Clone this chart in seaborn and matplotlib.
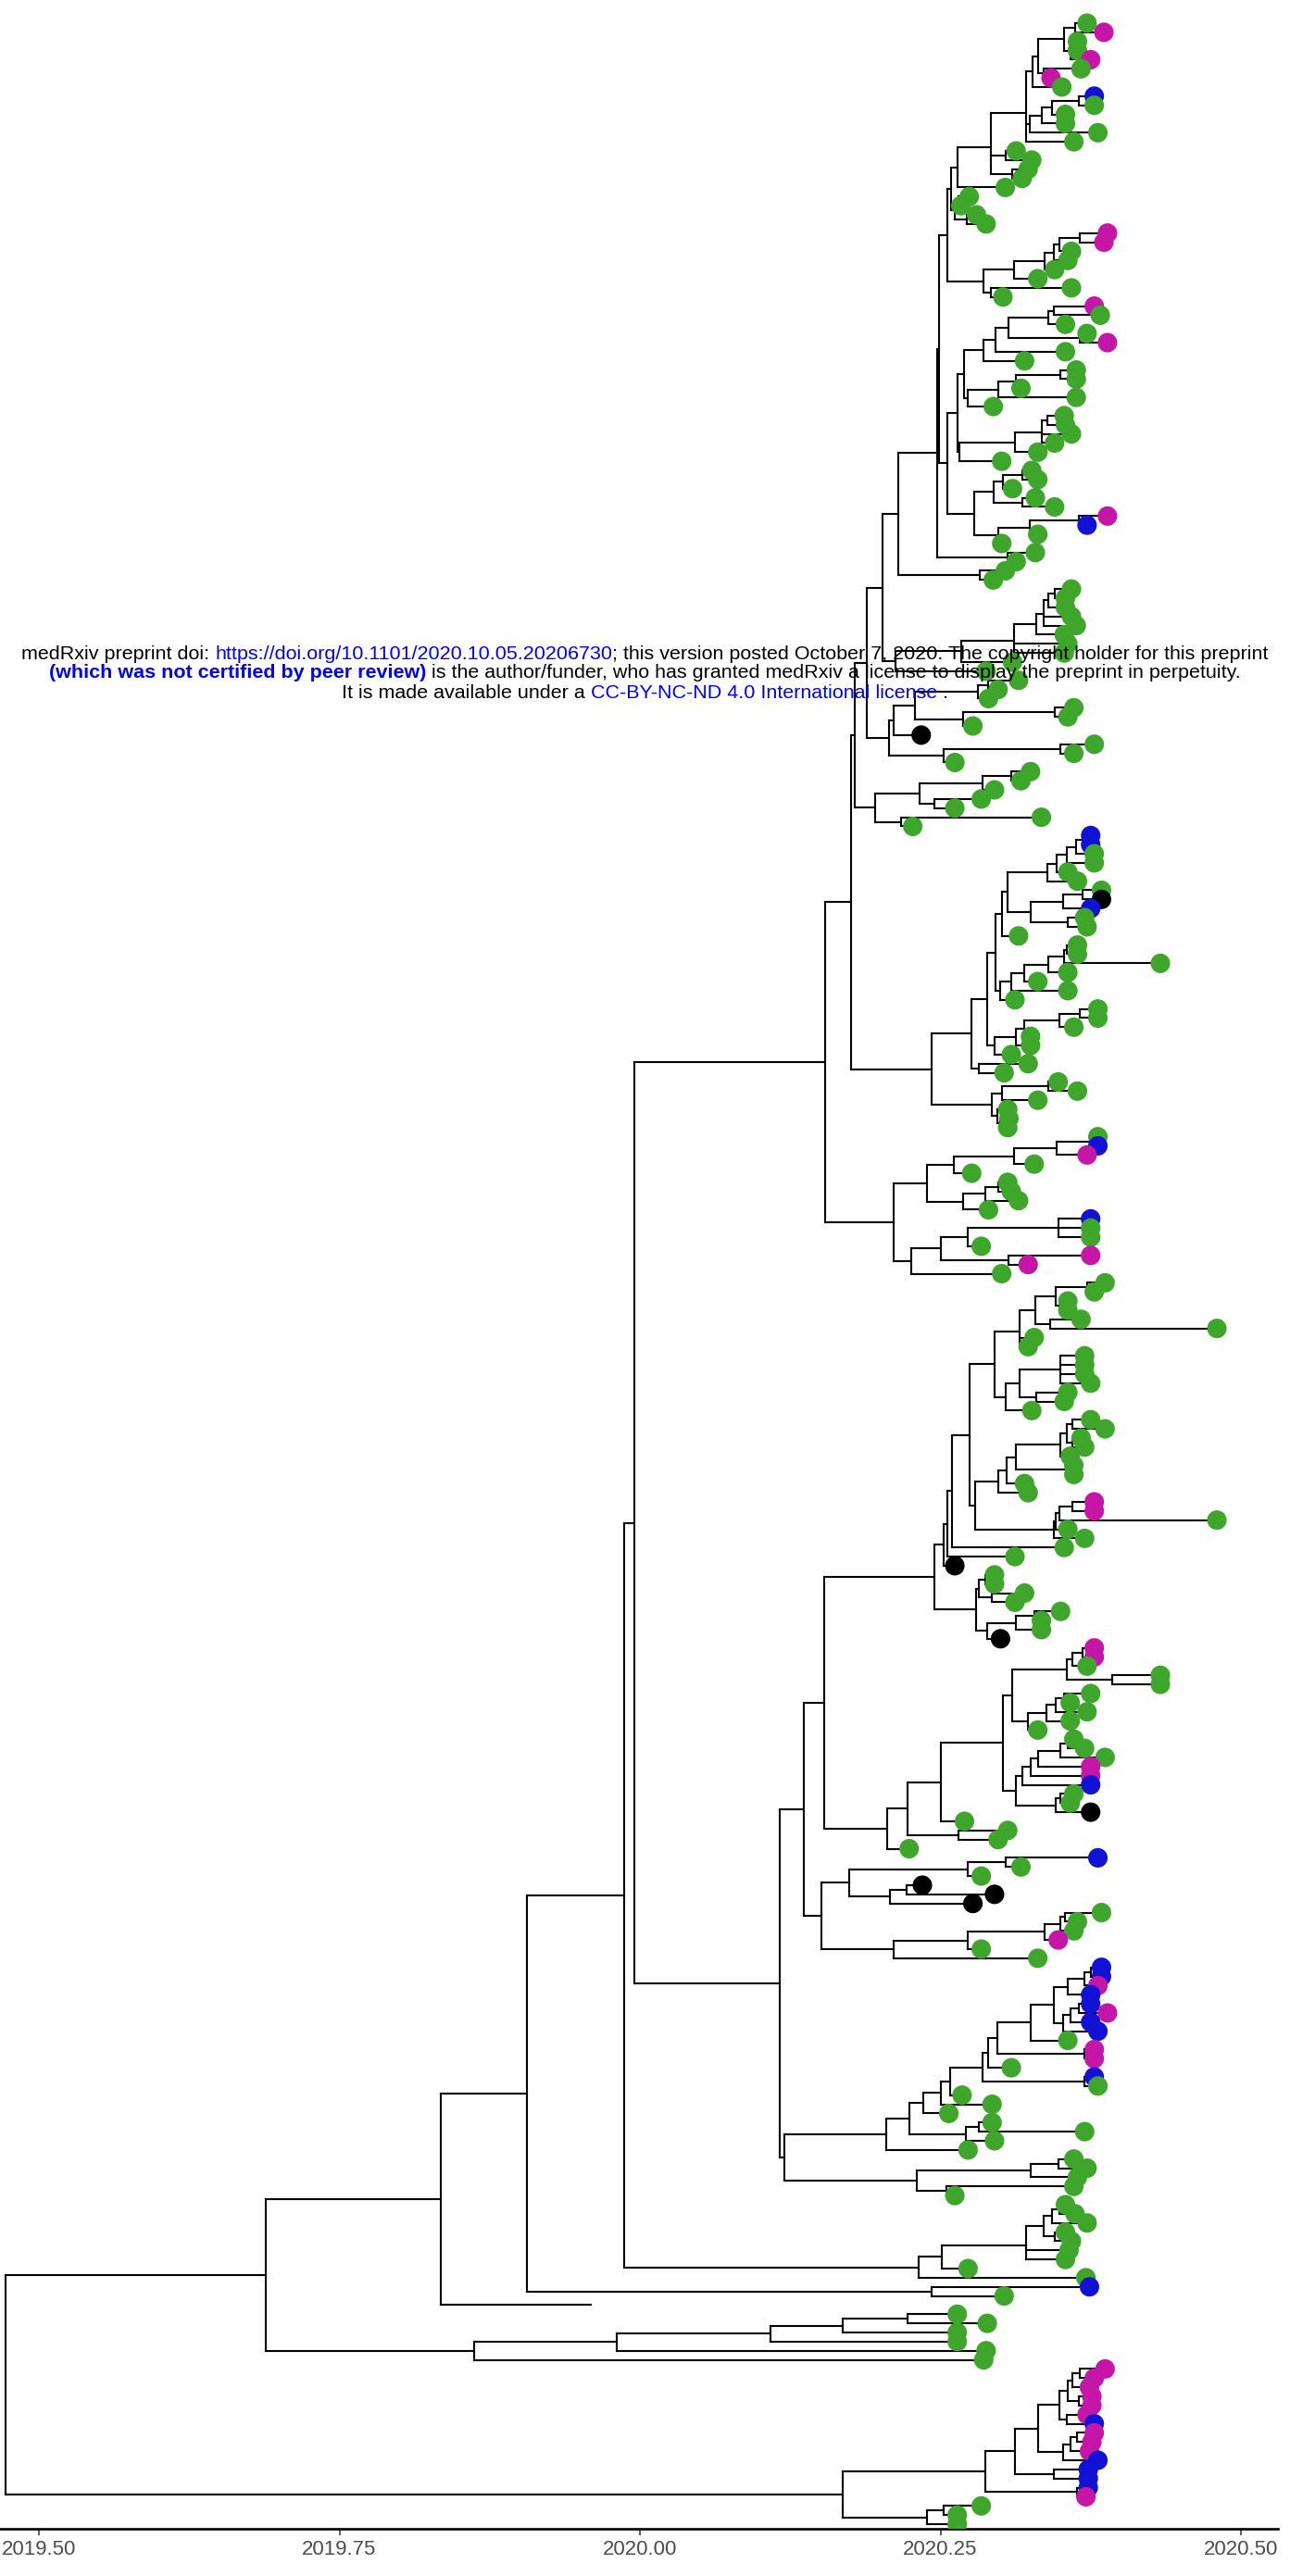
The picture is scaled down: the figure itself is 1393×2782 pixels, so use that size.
import matplotlib
matplotlib.use("Agg")
import matplotlib.pyplot as plt
from matplotlib.collections import LineCollection
import pandas as pd
import seaborn as sns

# ---- tip dates (decimal year), listed top to bottom ----
dates_a = [2020.372, 2020.386, 2020.364, 2020.364, 2020.375, 2020.367, 2020.342, 2020.351, 2020.378, 2020.378,
           2020.354, 2020.354, 2020.381, 2020.361, 2020.313, 2020.326, 2020.323, 2020.318, 2020.304, 2020.274,
           2020.267, 2020.280, 2020.288, 2020.389, 2020.386, 2020.359, 2020.356, 2020.345, 2020.331, 2020.359,
           2020.302, 2020.378, 2020.383, 2020.354, 2020.372, 2020.389, 2020.354, 2020.320, 2020.363, 2020.363,
           2020.317, 2020.363, 2020.294, 2020.353, 2020.354, 2020.359, 2020.345, 2020.331, 2020.301, 2020.326,
           2020.331, 2020.310, 2020.329, 2020.345, 2020.389, 2020.372, 2020.331, 2020.301, 2020.329, 2020.313,
           2020.304, 2020.294]
dates_b = [2020.359, 2020.354, 2020.354, 2020.359, 2020.363, 2020.353, 2020.356, 2020.353, 2020.310, 2020.288,
           2020.315, 2020.298, 2020.290, 2020.361, 2020.356, 2020.277, 2020.234, 2020.378, 2020.361, 2020.262,
           2020.325, 2020.317, 2020.295, 2020.284, 2020.262, 2020.334, 2020.227, 2020.375, 2020.375, 2020.378,
           2020.378, 2020.356, 2020.364, 2020.384, 2020.384, 2020.375, 2020.370, 2020.372, 2020.315, 2020.364,
           2020.364, 2020.433, 2020.356, 2020.331, 2020.356, 2020.312, 2020.381, 2020.381, 2020.361, 2020.325,
           2020.325, 2020.309, 2020.323, 2020.303, 2020.348, 2020.364, 2020.331, 2020.306, 2020.307, 2020.306,
           2020.381, 2020.381, 2020.372, 2020.328, 2020.276, 2020.306, 2020.309, 2020.315, 2020.290, 2020.375,
           2020.375, 2020.375, 2020.284, 2020.375, 2020.323, 2020.301]
dates_c = [2020.387, 2020.378, 2020.356, 2020.356, 2020.367, 2020.480, 2020.328, 2020.323, 2020.370, 2020.370,
           2020.370, 2020.375, 2020.356, 2020.353, 2020.326, 2020.375, 2020.387, 2020.367, 2020.370, 2020.358,
           2020.361, 2020.361, 2020.320, 2020.323, 2020.378, 2020.378, 2020.480, 2020.356, 2020.370, 2020.353,
           2020.312, 2020.262, 2020.295, 2020.295, 2020.320, 2020.312, 2020.350, 2020.334, 2020.334, 2020.300,
           2020.378, 2020.378, 2020.372, 2020.433, 2020.433, 2020.375, 2020.358, 2020.372, 2020.358, 2020.331,
           2020.361, 2020.370, 2020.387, 2020.375, 2020.375, 2020.375, 2020.361, 2020.358, 2020.375, 2020.270,
           2020.306, 2020.298, 2020.224]
dates_d = [2020.381, 2020.317, 2020.284, 2020.235, 2020.295, 2020.277, 2020.384, 2020.364, 2020.361, 2020.348,
           2020.284, 2020.331, 2020.384, 2020.384, 2020.381, 2020.375, 2020.375, 2020.389, 2020.375, 2020.381,
           2020.356, 2020.378, 2020.378, 2020.309, 2020.378, 2020.381, 2020.268, 2020.293, 2020.257, 2020.293,
           2020.370, 2020.295, 2020.273, 2020.361, 2020.372, 2020.364, 2020.361, 2020.262, 2020.354, 2020.362,
           2020.372, 2020.354, 2020.359, 2020.357, 2020.354, 2020.273, 2020.371, 2020.374, 2020.303, 2019.959]
dates_e = [2020.264, 2020.289, 2020.264, 2020.264, 2020.288, 2020.286, 2020.387, 2020.378, 2020.374, 2020.376,
           2020.376, 2020.372, 2020.378, 2020.378, 2020.376, 2020.374, 2020.381, 2020.373, 2020.373, 2020.373,
           2020.371, 2020.284, 2020.264, 2020.264]
tip_dates = dates_a + dates_b + dates_c + dates_d + dates_e

# ---- tip groups: g green, m magenta, b blue, k black, n no point ----
groups_a = "gmggmgmgbg" "gggggggggg" "gggmmggggg" "gmgggmgggg" "gggggggggg" "ggggmbgggg" "gg"
groups_b = "gggggggg" "ggggggggkg" "gggggggggb" "bgggggkbgg" "gggggggggg" "gggggggggg" "gggbmggggg" "gbgggmmg"
groups_c = "gg" "gggggggggg" "gggggggggg" "ggmmgggggk" "gggggggkmm" "gggggggggg" "gmmbggkggg" "g"
groups_d = "bggkkkggg" "mggbbmbbmb" "bgmmgbgggg" "gggggggggg" "ggggggggbg" "n"
groups_e = "gggggg" "mmmmmm" "b" "mmm" "bbbb" "m" "ggg"
tip_groups = groups_a + groups_b + groups_c + groups_d + groups_e

palette = {"g": "#3fa62c", "m": "#c616a8", "b": "#1212d6", "k": "#000000"}

# ---- topology: (children)@node date, tips are numbers into the lists above ----
T1 = ("((((((((1,2)@2020.362,(3,4,5)@2020.358)@2020.353,(6,7)@2020.336)@2020.331,8)@2020.327,"
      "((((9,10)@2020.365,11)@2020.343,12)@2020.334,13)@2020.324,14)@2020.321,(15,16)@2020.304,"
      "(17,18)@2020.310)@2020.292,19)@2020.264,((20,21)@2020.265,(22,23)@2020.272)@2020.262)@2020.259")
T2a = ("((((((24,25)@2020.366,26)@2020.349,27)@2020.344,28)@2020.337,29)@2020.311,"
       "(30,31)@2020.292)@2020.286")
q6 = "(((((32,33)@2020.344,34)@2020.340,(35,36)@2020.366)@2020.307,37)@2020.296,38)@2020.286"
r4 = "((((39,40)@2020.350,41)@2020.313,42)@2020.298,43)@2020.273"
s4 = "((((44,45)@2020.339,46,47)@2020.334,48)@2020.312,49)@2020.266"
U1 = ("((((50,51)@2020.318,52)@2020.302,(53,54)@2020.318)@2020.294,"
      "(((55,56)@2020.365,57)@2020.324,58)@2020.298)@2020.278")
T4a = "(((((((63,64)@2020.345,65)@2020.340,66,67)@2020.336,68)@2020.330,69,70)@2020.311,71)@2020.267,72)@2020.213"
x3 = "((((73,74)@2020.290,75)@2020.281,((76,77)@2020.345,78)@2020.269)@2020.229,79)@2020.211"
c1020 = "((80,81)@2020.350,82)@2020.253"
T5 = "((((83,84)@2020.309,85)@2020.285,(86,87)@2020.245)@2020.233,(88,89)@2020.217)@2020.196"
j4 = "(((((90,91)@2020.370,92)@2020.363,93)@2020.355,94)@2020.347,95)@2020.339"
j5 = "(((96,97)@2020.368,98)@2020.352,(99,100)@2020.356)@2020.325"
i6 = "((((((102,103)@2020.355,104)@2020.353,105)@2020.340,106)@2020.320,107)@2020.309,108)@2020.300"
h5 = "(((((109,110)@2020.366,111)@2020.349,112)@2020.320,113)@2020.313,114)@2020.295"
g2 = "(((117,118)@2020.340,119)@2020.301,(120,(121,122)@2020.300)@2020.297)@2020.293"
k3 = "((((123,124)@2020.375,125)@2020.347,126)@2020.311,127)@2020.261"
k5 = "(((128,129)@2020.298,130)@2020.287,131)@2020.269"
m5 = "((((132,133,134)@2020.348,135)@2020.273,(136,137)@2020.307)@2020.250,138)@2020.226"
c3 = "((((139,140)@2020.372,(141,142)@2020.350)@2020.346,(143,144)@2020.341)@2020.329,145,146)@2020.316"
c5 = "(((147,148,149,150)@2020.350,(151,152)@2020.330)@2020.316,153)@2020.304"
c8 = ("((((((154,155)@2020.360,(156,157)@2020.360)@2020.355,158)@2020.350,(159,160)@2020.355)@2020.313,"
      "161)@2020.305,162)@2020.298")
c6 = "((((163,164)@2020.360,165)@2020.349,166)@2020.346,167)@2020.344"
c585 = ("(((171,172)@2020.287,(173,174)@2020.293)@2020.282,"
        "(((175,176)@2020.328,177)@2020.313,178)@2020.289)@2020.280")
n693 = ("((((179,180)@2020.368,181)@2020.360,(182,183)@2020.393)@2020.355,"
        "((((184,185)@2020.353,186)@2020.346,187)@2020.338,188)@2020.323)@2020.310")
dd = ("((((((189,190)@2020.356,191)@2020.350,192)@2020.331,193)@2020.325,194)@2020.318,"
      "((195,196)@2020.350,197)@2020.346)@2020.313")
c917 = "(((202,203)@2020.304,204)@2020.273,((205,206)@2020.222,207)@2020.208)@2020.174"
c965 = "(((((208,209)@2020.354,210)@2020.350,211)@2020.337,212)@2020.273,213)@2020.211"
BM = ("((((((((214,215)@2020.375,216)@2020.370,217)@2020.356,(((218,219)@2020.365,220)@2020.358,221)@2020.352)"
      "@2020.344,222)@2020.325,(223,224)@2020.370)@2020.297,225)@2020.290,(226,227)@2020.370)@2020.285")
c990 = "(((235,236)@2020.348,237)@2020.325,(238,239)@2020.255)@2020.230"
Ne = "((((((240,241)@2020.349,242)@2020.343,(243,244)@2020.345)@2020.336,245,246)@2020.321,247)@2020.251,248)@2020.232"
E = "(((((252,253)@2020.223,254)@2020.169,255)@2020.109,256)@2019.981,257)@2019.862"
B = ("((((((((258,259)@2020.366,260)@2020.360,(261,262)@2020.365)@2020.356,(263,264)@2020.355)@2020.349,"
     "(((265,266)@2020.364,267)@2020.358,268)@2020.352)@2020.331,(269,270)@2020.344)@2020.312,"
     "(271,272)@2020.364)@2020.287,((273,274)@2020.253,275)@2020.239)@2020.169")

n370 = f"({T1},{T2a})@2020.256"
n368 = f"((({q6},{r4})@2020.270,{s4})@2020.264,{U1})@2020.256"
c970 = f"((({n370},{n368})@2020.249,(59,60)@2020.306)@2020.247,(61,62)@2020.283)@2020.215"
c936 = f"(({c970},{T4a})@2020.202,({x3},{c1020})@2020.207)@2020.189"
c1009 = (f"(((((({j4},{j5})@2020.306,101)@2020.301,{i6})@2020.296,{h5})@2020.289,"
         f"(115,116)@2020.282)@2020.276,{g2})@2020.243")
c891 = f"((({c936},{T5})@2020.179,{c1009})@2020.176,(({k3},{k5})@2020.239,{m5})@2020.211)@2020.154"
c_c = f"((((({c3},{c5})@2020.295,({c8},{c6})@2020.279)@2020.274,168)@2020.260,169)@2020.256,170)@2020.253"
c959 = f"(((({n693},{dd})@2020.302,198)@2020.250,(199,200)@2020.265)@2020.223,201)@2020.206"
c867 = f"((({c_c},{c585})@2020.245,{c959})@2020.153,({c917},{c965})@2020.151)@2020.136"
c847 = (f"(((((({BM},228)@2020.258,229)@2020.250,230)@2020.236,((231,232)@2020.282,233)@2020.271)@2020.224,"
        f"234)@2020.205,{c990})@2020.120")
Nd = f"({c891},({c867},{c847})@2020.116)@2019.995"
tree = f"((((({Nd},{Ne})@2019.987,(249,250)@2020.243)@2019.906,251)@2019.834,{E})@2019.689,{B})@2019.472"


def parse(s):
    pos = 0

    def node():
        nonlocal pos
        if s[pos] == "(":
            pos += 1
            kids = [node()]
            while s[pos] == ",":
                pos += 1
                kids.append(node())
            pos += 2  # ")@"
            j = pos
            while pos < len(s) and s[pos] not in ",)":
                pos += 1
            return kids, float(s[j:pos])
        j = pos
        while s[pos] not in ",)":
            pos += 1
        return int(s[j:pos])

    return node()


root = parse(tree)

h_segs, v_segs = [], []
tip_rows = []


def layout(n):
    if isinstance(n, int):
        y = len(tip_rows)
        tip_rows.append((n, tip_dates[n - 1], y, tip_groups[n - 1]))
        return tip_dates[n - 1], y
    kids, x = n
    pts = [layout(k) for k in kids]
    ys = [p[1] for p in pts]
    for cx, cy in pts:
        h_segs.append([(x, cy), (cx, cy)])
    v_segs.append([(x, min(ys)), (x, max(ys))])
    return x, sum(ys) / len(ys)


layout(root)
tips = pd.DataFrame(tip_rows, columns=["tip", "date", "y", "group"])
n_tips = len(tips)

plt.rcParams["font.family"] = ["Liberation Sans", "DejaVu Sans"]

W, H = 1393, 2782
axis_px = 2731
fig = plt.figure(figsize=(W / 100, H / 100), dpi=100)
ax = fig.add_axes([0, (H - axis_px) / H, 1380 / W, axis_px / H])

ax.add_collection(LineCollection(h_segs + v_segs, colors="black", linewidths=1.5,
                                 capstyle="projecting", zorder=2))
sns.scatterplot(data=tips[tips["group"] != "n"], x="date", y="y", hue="group", palette=palette,
                s=230, linewidth=0, legend=False, ax=ax, zorder=3)

step = 2701 / (n_tips - 1)
ax.set_ylim(n_tips - 1 + (axis_px - 2726) / step, -25 / step)
ax.set_xlim(2019.5 - 42 / 1298, 2019.5 + (1380 - 42) / 1298)

for side in ["top", "left", "right"]:
    ax.spines[side].set_visible(False)
ax.spines["bottom"].set_linewidth(1.9)
ax.set_yticks([])
ax.set_xticks([2019.5, 2019.75, 2020.0, 2020.25, 2020.5])
ax.set_xticklabels(["2019.50", "2019.75", "2020.00", "2020.25", "2020.50"])
ax.tick_params(axis="x", length=5, width=1.1, color="#333333", labelsize=16,
               labelcolor="#4d4d4d", pad=3.5)
ax.set_xlabel("")
ax.set_ylabel("")

# ---- medRxiv banner, three centred lines with coloured pieces ----
banner = [
    (706, [("medRxiv preprint doi: ", "black", "normal"),
           ("https://doi.org/10.1101/2020.10.05.20206730", "blue", "normal"),
           ("; this version posted October 7, 2020. The copyright holder for this preprint", "black", "normal")]),
    (727, [("(which was not certified by peer review)", "blue", "bold"),
           (" is the author/funder, who has granted medRxiv a license to display the preprint in perpetuity.",
            "black", "normal")]),
    (748, [("It is made available under a ", "black", "normal"),
           ("CC-BY-NC-ND 4.0 International license", "blue", "normal"),
           (" .", "black", "normal")]),
]
renderer = fig.canvas.get_renderer()
for ypx, parts in banner:
    pieces = [fig.text(0, 1 - ypx / H, s, color=c, fontweight=w, fontsize=15.45, va="center", zorder=5)
              for s, c, w in parts]
    widths = [p.get_window_extent(renderer).width for p in pieces]
    x = (W - sum(widths)) / 2
    for p, w in zip(pieces, widths):
        p.set_x(x / W)
        x += w

fig.savefig("out.png", dpi=100)
